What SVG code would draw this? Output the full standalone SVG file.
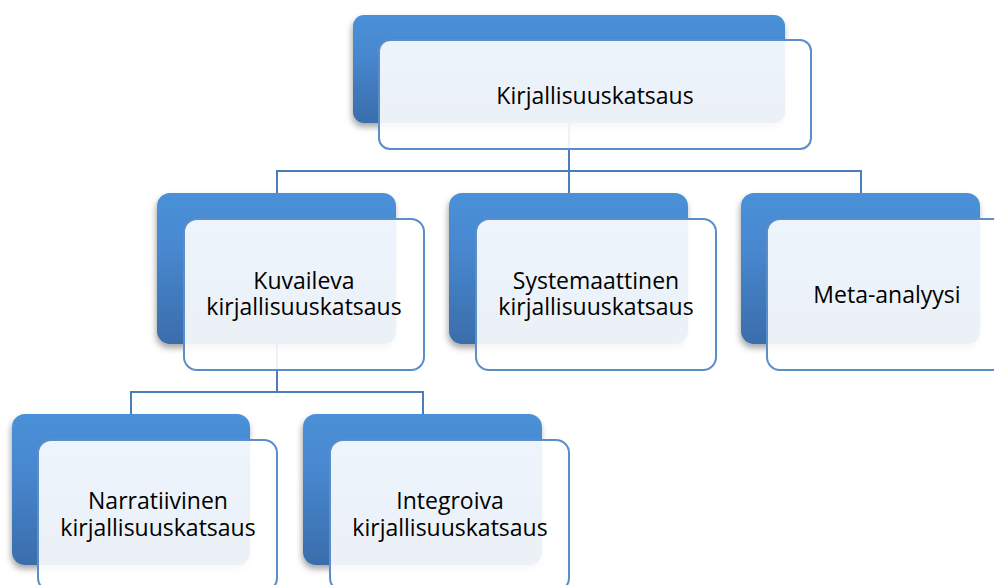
<svg xmlns="http://www.w3.org/2000/svg" width="994" height="585" viewBox="0 0 994 585">
<defs>
<linearGradient id="gBack" x1="0" y1="0" x2="0" y2="1">
<stop offset="0" stop-color="#4A91D8"/>
<stop offset="0.35" stop-color="#4888D0"/>
<stop offset="1" stop-color="#3A6DAB"/>
</linearGradient>
<filter id="sh" x="-10%" y="-10%" width="120%" height="130%">
<feDropShadow dx="-1" dy="4" stdDeviation="3" flood-color="#000" flood-opacity="0.35"/>
</filter>
</defs>
<style>
.back{fill:url(#gBack);filter:url(#sh)}
.front{fill:#fff;fill-opacity:0.9;stroke:#5B8DC8;stroke-width:2}
.conn{fill:none;stroke:#4A7EBB;stroke-width:2}
text{font-family:"Open Sans","Noto Sans","DejaVu Sans",sans-serif;font-size:23px;fill:#000;text-anchor:middle}
</style>
<rect width="994" height="585" fill="#fff"/>
<g id="back-layers">
<rect class="back" x="353" y="15" width="432" height="108" rx="11"/>
<rect class="back" x="157" y="193" width="239" height="151" rx="13"/>
<rect class="back" x="449" y="193" width="239" height="151" rx="13"/>
<rect class="back" x="741" y="193" width="239" height="151" rx="13"/>
<rect class="back" x="12" y="414" width="238" height="151" rx="13"/>
<rect class="back" x="303" y="414" width="239" height="151" rx="13"/>
</g>
<g id="connectors">
<path class="conn" d="M569 123 V171 M277 193 V171 H861 V193 M569 171 V193"/>
<path class="conn" d="M277 344 V392 M131 414 V392 H423 V414"/>
</g>
<g id="node-kirjallisuuskatsaus">
<rect class="front" x="379" y="40" width="432" height="109" rx="11"/>
<text x="595" y="104">Kirjallisuuskatsaus</text>
</g>
<g id="node-kuvaileva">
<rect class="front" x="184" y="219" width="240" height="151" rx="13"/>
<text x="304" y="289">Kuvaileva</text>
<text x="304" y="315">kirjallisuuskatsaus</text>
</g>
<g id="node-systemaattinen">
<rect class="front" x="476" y="219" width="240" height="151" rx="13"/>
<text x="596" y="289">Systemaattinen</text>
<text x="596" y="315">kirjallisuuskatsaus</text>
</g>
<g id="node-meta">
<rect class="front" x="767" y="219" width="240" height="151" rx="13"/>
<text x="887" y="303">Meta-analyysi</text>
</g>
<g id="node-narratiivinen">
<rect class="front" x="38" y="440" width="239" height="151" rx="13"/>
<text x="158" y="509">Narratiivinen</text>
<text x="158" y="536">kirjallisuuskatsaus</text>
</g>
<g id="node-integroiva">
<rect class="front" x="330" y="440" width="239" height="151" rx="13"/>
<text x="450" y="509">Integroiva</text>
<text x="450" y="536">kirjallisuuskatsaus</text>
</g>
</svg>
